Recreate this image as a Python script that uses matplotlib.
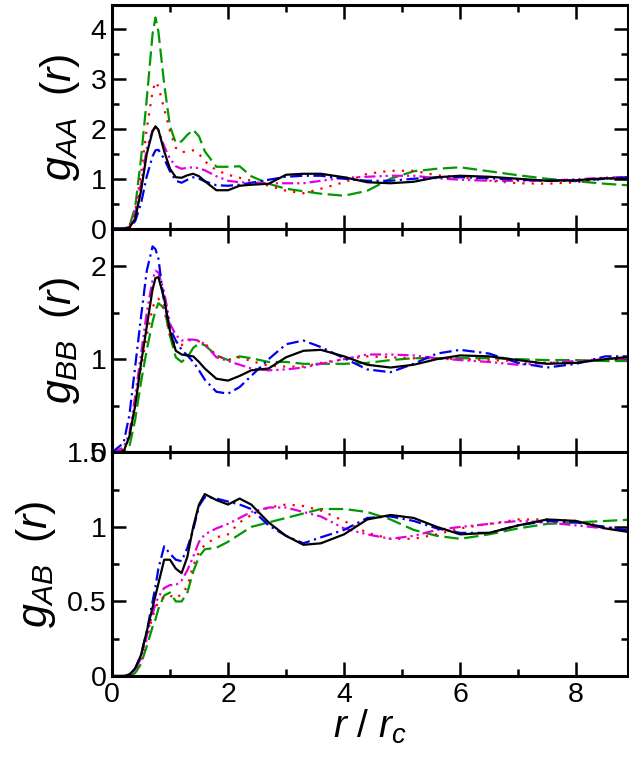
import numpy as np
import matplotlib
matplotlib.use("Agg")
import matplotlib.pyplot as plt
from matplotlib.ticker import MultipleLocator

plt.rcParams["font.family"] = ["Liberation Sans", "DejaVu Sans"]
plt.rcParams["mathtext.fontset"] = "custom"
plt.rcParams["mathtext.rm"] = "Liberation Sans"
plt.rcParams["mathtext.it"] = "Liberation Sans:italic"

# shared r / r_c grid
r = [0, 0.2, 0.3, 0.4, 0.5, 0.6, 0.7, 0.75, 0.8, 0.9, 1.0, 1.1, 1.2, 1.3, 1.4,
     1.5, 1.6, 1.8, 2.0, 2.2, 2.4, 2.7, 3.0, 3.3, 3.6, 4.0, 4.4, 4.8, 5.2, 5.6,
     6.0, 6.5, 7.0, 7.5, 8.0, 8.5, 9.0]

# g_AA(r)
aa_black = [0, 0, 0.02, 0.2, 0.75, 1.5, 1.95, 2.05, 1.98, 1.55, 1.2, 1.03, 1.02,
            1.07, 1.1, 1.05, 0.95, 0.77, 0.77, 0.86, 0.88, 0.9, 1.08, 1.1, 1.1,
            1.03, 0.93, 0.91, 0.94, 1.03, 1.06, 1.04, 1.0, 0.96, 0.97, 1.01, 0.99]
aa_red = [0, 0, 0.05, 0.35, 1.1, 2.0, 2.75, 2.94, 2.85, 2.4, 1.95, 1.62, 1.53,
          1.55, 1.57, 1.5, 1.35, 1.17, 1.08, 1.02, 0.96, 0.86, 0.76, 0.71, 0.8,
          0.93, 1.1, 1.16, 1.16, 1.07, 1.03, 0.96, 0.91, 0.9, 0.93, 1.0, 1.04]
aa_green = [0, 0, 0.05, 0.43, 1.4, 2.6, 3.9, 4.23, 3.95, 2.9, 2.05, 1.72, 1.75,
            1.88, 1.98, 1.85, 1.55, 1.24, 1.24, 1.25, 1.05, 0.9, 0.8, 0.75, 0.7,
            0.66, 0.76, 1.0, 1.15, 1.2, 1.23, 1.15, 1.07, 1.0, 0.95, 0.9, 0.86]
aa_blue = [0, 0, 0.02, 0.15, 0.5, 1.05, 1.45, 1.57, 1.58, 1.4, 1.15, 0.96, 0.92,
           0.98, 1.03, 1.0, 0.95, 0.87, 0.86, 0.88, 0.92, 0.98, 1.04, 1.06, 1.06,
           1.0, 0.96, 0.96, 1.0, 1.03, 1.03, 1.01, 0.98, 0.96, 0.96, 1.0, 1.04]
aa_magenta = [0, 0, 0.04, 0.3, 0.9, 1.6, 1.97, 2.03, 1.97, 1.65, 1.4, 1.25, 1.2,
              1.22, 1.23, 1.21, 1.17, 1.05, 0.96, 0.93, 0.92, 0.91, 0.91, 0.91,
              0.96, 1.02, 1.04, 1.06, 1.06, 1.01, 0.98, 0.96, 0.96, 0.96, 0.99,
              1.02, 1.04]

# g_BB(r)
bb_black = [0, 0.01, 0.17, 0.5, 0.95, 1.35, 1.75, 1.87, 1.88, 1.65, 1.3, 1.09,
            1.05, 1.04, 1.03, 0.97, 0.9, 0.79, 0.77, 0.82, 0.88, 0.9, 1.02, 1.09,
            1.1, 1.03, 0.94, 0.91, 0.94, 1.0, 1.04, 1.03, 0.99, 0.95, 0.96, 1.0,
            1.03]
bb_red = [0, 0.03, 0.15, 0.5, 0.9, 1.25, 1.55, 1.63, 1.65, 1.53, 1.25, 1.15,
          1.15, 1.2, 1.21, 1.19, 1.17, 1.04, 0.99, 1.02, 0.98, 0.93, 0.92, 0.92,
          0.96, 1.0, 1.03, 1.02, 1.01, 1.01, 1.0, 0.99, 0.98, 0.96, 0.97, 1.01,
          1.01]
bb_green = [0, 0.01, 0.06, 0.35, 0.75, 1.1, 1.4, 1.52, 1.6, 1.55, 1.25, 1.02,
            0.97, 1.02, 1.12, 1.17, 1.15, 1.04, 0.99, 1.03, 1.01, 0.97, 0.97,
            0.95, 0.95, 0.95, 0.96, 0.99, 1.01, 1.01, 1.01, 1.01, 1.0, 0.99,
            0.99, 0.98, 0.98]
bb_blue = [0, 0.1, 0.4, 0.92, 1.45, 1.95, 2.21, 2.18, 2.08, 1.6, 1.33, 1.2, 1.1,
           1.04, 0.97, 0.88, 0.78, 0.65, 0.63, 0.7, 0.82, 1.0, 1.16, 1.2, 1.13,
           1.01, 0.89, 0.86, 0.95, 1.06, 1.1, 1.06, 0.96, 0.91, 0.95, 1.03, 1.03]
bb_magenta = [0, 0.05, 0.2, 0.6, 1.05, 1.5, 1.85, 1.95, 1.93, 1.72, 1.38, 1.26,
              1.2, 1.21, 1.21, 1.2, 1.16, 1.02, 0.98, 0.94, 0.9, 0.88, 0.89,
              0.91, 0.95, 1.0, 1.05, 1.05, 1.04, 1.01, 0.99, 0.97, 0.94, 0.96,
              0.98, 1.0, 1.01]

# g_AB(r)
ab_black = [0, 0, 0.01, 0.05, 0.14, 0.3, 0.46, 0.54, 0.62, 0.78, 0.78, 0.72,
            0.69, 0.8, 1.0, 1.15, 1.22, 1.18, 1.15, 1.19, 1.15, 1.03, 0.94, 0.88,
            0.89, 0.95, 1.05, 1.08, 1.06, 1.0, 0.95, 0.96, 1.01, 1.05, 1.04,
            0.99, 0.96]
ab_red = [0, 0, 0.01, 0.03, 0.1, 0.25, 0.4, 0.45, 0.5, 0.53, 0.54, 0.52, 0.55,
          0.6, 0.74, 0.83, 0.88, 0.93, 0.95, 1.03, 1.08, 1.13, 1.15, 1.14, 1.11,
          1.04, 0.96, 0.92, 0.92, 0.95, 0.99, 1.02, 1.05, 1.05, 1.04, 1.0, 0.97]
ab_green = [0, 0, 0.0, 0.02, 0.08, 0.2, 0.33, 0.38, 0.45, 0.54, 0.56, 0.5, 0.5,
            0.56, 0.7, 0.8, 0.85, 0.86, 0.9, 0.95, 1.0, 1.03, 1.06, 1.09, 1.12,
            1.12, 1.1, 1.05, 0.98, 0.94, 0.92, 0.95, 0.99, 1.02, 1.03, 1.04,
            1.05]
ab_blue = [0, 0, 0.01, 0.05, 0.14, 0.3, 0.5, 0.6, 0.72, 0.87, 0.82, 0.78, 0.77,
           0.86, 0.98, 1.14, 1.2, 1.19, 1.17, 1.15, 1.12, 1.01, 0.94, 0.89, 0.93,
           0.98, 1.06, 1.07, 1.04, 0.99, 0.96, 0.96, 1.01, 1.04, 1.03, 1.0, 0.97]
ab_magenta = [0, 0, 0.01, 0.04, 0.12, 0.27, 0.42, 0.48, 0.53, 0.59, 0.61, 0.61,
              0.64, 0.71, 0.8, 0.9, 0.95, 0.99, 1.02, 1.06, 1.1, 1.13, 1.13, 1.1,
              1.07, 0.99, 0.95, 0.92, 0.94, 0.98, 1.0, 1.02, 1.04, 1.03, 1.01,
              0.99, 0.97]

styles = {
    "green": dict(color="#009a00", ls=(0, (6.5, 2.5))),
    "red": dict(color="#ff0000", ls=(0, (1, 3.2))),
    "magenta": dict(color="#e000e0", ls=(0, (5, 1.8, 1, 1.8, 1, 1.8))),
    "blue": dict(color="#0000ee", ls=(0, (5.5, 2, 1, 2))),
    "black": dict(color="black", ls="-"),
}

panels = [
    (r"$g_{AA}\;\;(r)$", (0, 4.48), 1, 0.5,
     {"green": aa_green, "red": aa_red, "magenta": aa_magenta,
      "blue": aa_blue, "black": aa_black}),
    (r"$g_{BB}\;\;(r)$", (0, 2.4), 1, 0.5,
     {"green": bb_green, "red": bb_red, "magenta": bb_magenta,
      "blue": bb_blue, "black": bb_black}),
    (r"$g_{AB}\;\;(r)$", (0, 1.5), 0.5, 0.25,
     {"green": ab_green, "red": ab_red, "magenta": ab_magenta,
      "blue": ab_blue, "black": ab_black}),
]

fig, axes = plt.subplots(3, 1, sharex=True, figsize=(6.29, 7.60), dpi=100)
fig.subplots_adjust(left=0.178, right=0.999, top=0.9934, bottom=0.1105,
                    hspace=0)

for ax, (label, ylim, major, minor, series) in zip(axes, panels):
    for name, vals in series.items():
        st = styles[name]
        ax.plot(r, vals, color=st["color"], linestyle=st["ls"], lw=1.6)
    ax.set_ylim(*ylim)
    ax.set_xlim(0, 8.9)
    ax.yaxis.set_major_locator(MultipleLocator(major))
    ax.yaxis.set_minor_locator(MultipleLocator(minor))
    ax.xaxis.set_major_locator(MultipleLocator(2))
    ax.xaxis.set_minor_locator(MultipleLocator(1))
    ax.tick_params(which="both", direction="in", top=True, right=True,
                   labelsize=20.5, width=1.8, pad=4)
    ax.tick_params(which="major", length=10)
    ax.tick_params(which="minor", length=5)
    for sp in ax.spines.values():
        sp.set_linewidth(2.2)
    ax.set_ylabel(label, fontsize=31, labelpad=6)

axes[2].yaxis.set_major_formatter(
    plt.FuncFormatter(lambda v, p: f"{v:g}"))
axes[2].set_xlabel(r"$r\ /\ r_c$", fontsize=28, labelpad=0)

fig.savefig("out.png", dpi=100)
